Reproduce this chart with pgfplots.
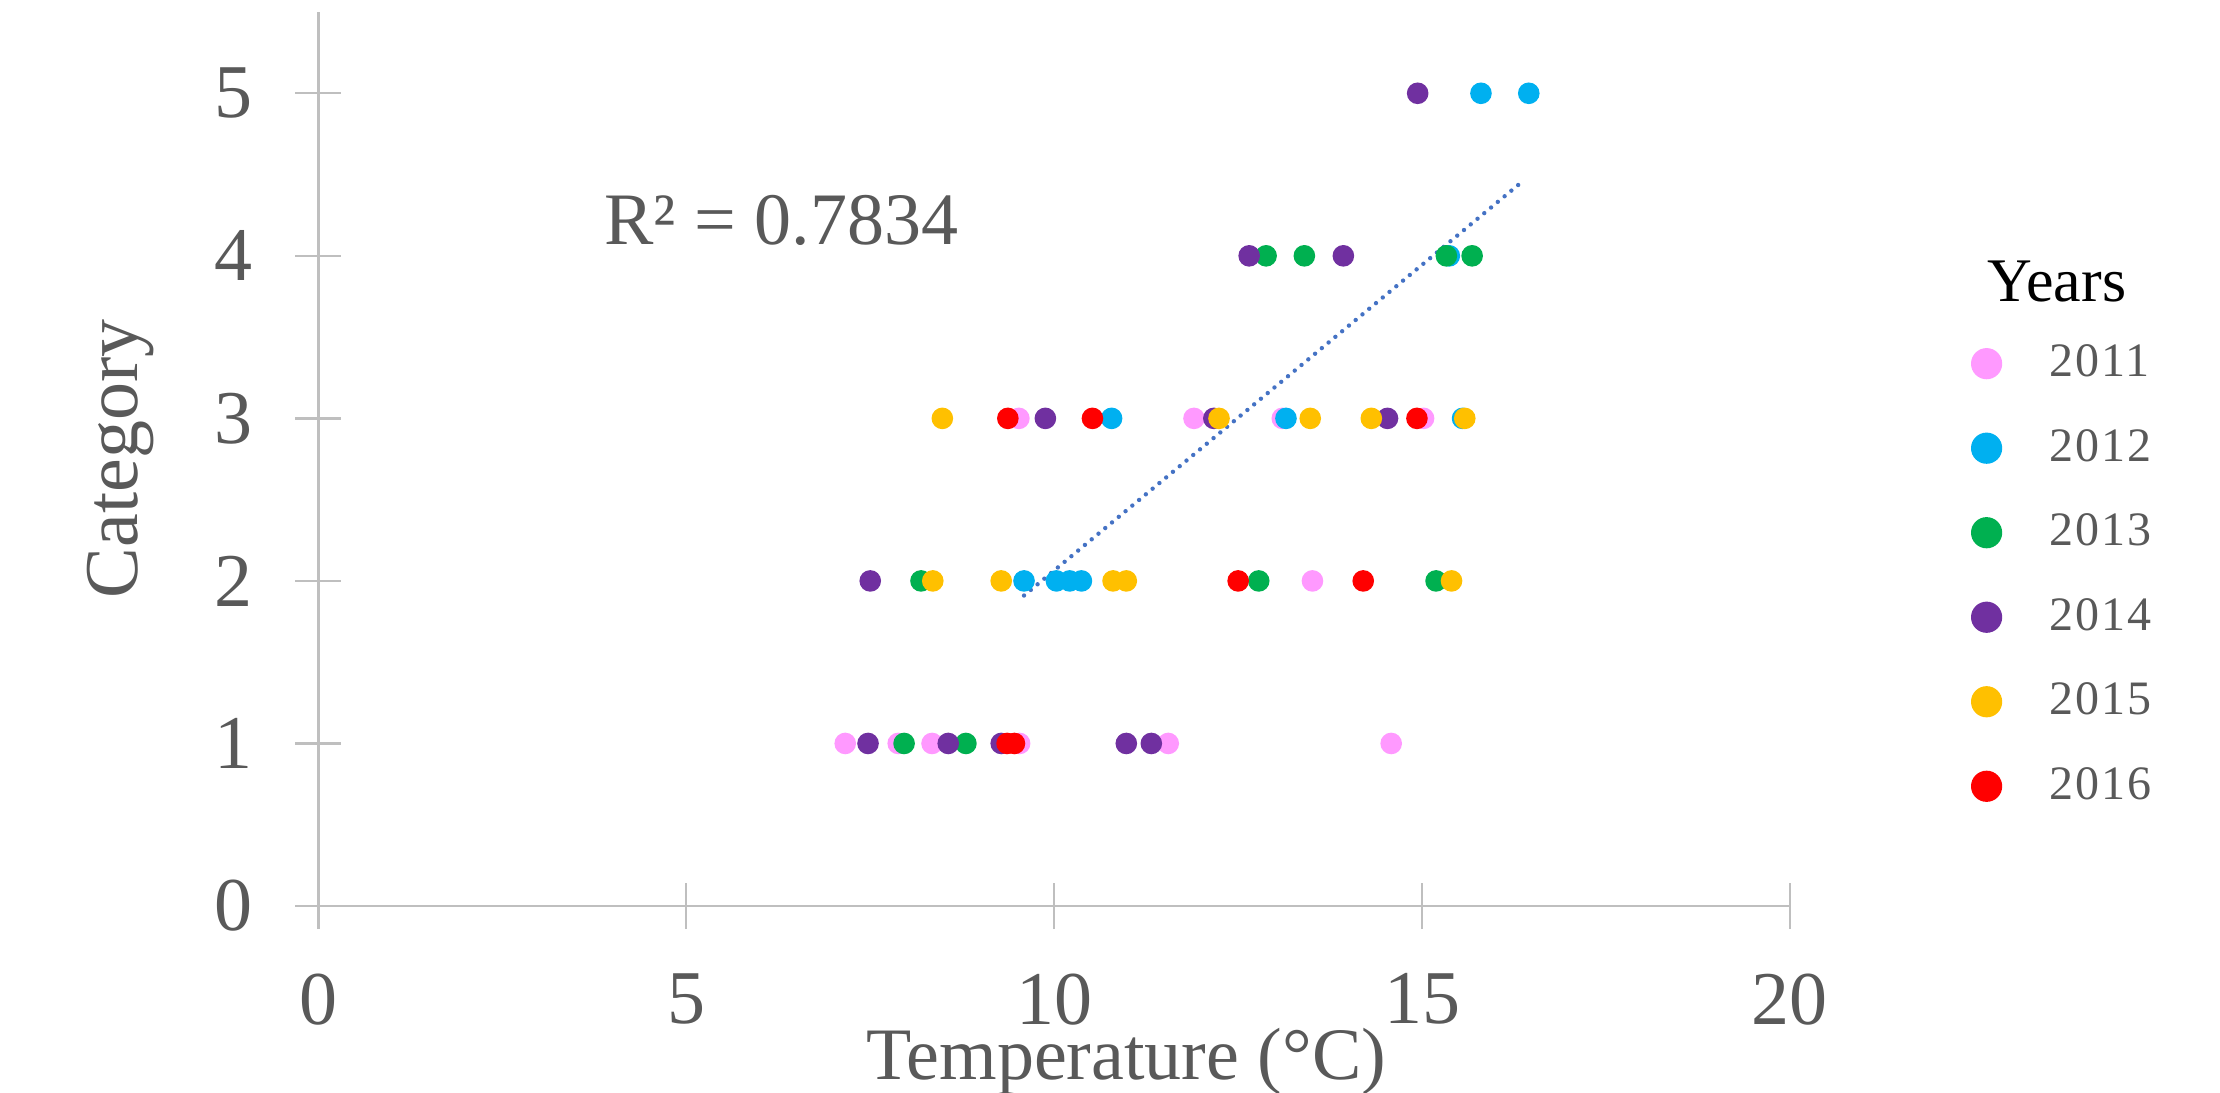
\documentclass[border=0pt]{standalone}
\usepackage{fontspec}
\setmainfont{Liberation Serif}
\usepackage{pgfplots}
\pgfplotsset{compat=1.18}

\definecolor{c2011}{HTML}{FF99FF}
\definecolor{c2012}{HTML}{00B0F0}
\definecolor{c2013}{HTML}{00B050}
\definecolor{c2014}{HTML}{7030A0}
\definecolor{c2015}{HTML}{FFC000}
\definecolor{c2016}{HTML}{FF0000}
\definecolor{txtgray}{HTML}{595959}
\definecolor{axgray}{HTML}{BFBFBF}
\definecolor{trend}{HTML}{4472C4}

\begin{document}
\begin{tikzpicture}
\begin{axis}[
    name=ax,
    scale only axis,
    width=367.9pt, height=223.5pt,
    xmin=0, xmax=20, ymin=0, ymax=5.5,
    xtick={0,5,10,15,20}, ytick={0,1,2,3,4,5},
    axis lines*=left,
    axis line style={axgray, line width=0.6pt},
    tick style={axgray, line width=0.6pt},
    tick align=center, major tick length=11.5pt,
    /pgf/number format/assume math mode=true,
    tick label style={font=\fontsize{19}{22}\selectfont, text=txtgray},
    yticklabel style={inner sep=0pt, anchor=east, xshift=-10.4pt},
    xticklabel style={inner sep=0pt, anchor=north, yshift=-11pt},
    xlabel={Temperature (°C)}, ylabel={Category},
    every axis x label/.style={at={(axis description cs:0.549,-0.1946)}, anchor=base,
        font=\fontsize{18.5}{22}\selectfont, text=txtgray},
    every axis y label/.style={at={(axis description cs:-0.1346,0.5)}, rotate=90, anchor=center,
        font=\fontsize{19}{22}\selectfont, text=txtgray},
    clip=false,
    legend style={draw=none, fill=none, inner sep=0pt, at={(axis description cs:1.1230,0.6377)}, anchor=north west,
        font=\fontsize{12}{14}\selectfont\addfontfeature{LetterSpace=4}, text=txtgray, row sep=7.65pt,
        /tikz/every odd column/.append style={column sep=10pt}},
    legend cell align=left,
    legend image post style={mark size=3.7pt},
]
\addplot[only marks, mark=*, mark size=2.5pt, color=c2011] coordinates {
(7.16,1)(7.88,1)(8.34,1)(9.53,1)(11.55,1)(14.58,1)(13.51,2)(9.52,3)(11.90,3)(13.10,3)(15.02,3)};
\addplot[only marks, mark=*, mark size=2.5pt, color=c2012] coordinates {
(9.59,2)(10.03,2)(10.21,2)(10.37,2)(10.78,3)(13.15,3)(15.55,3)(15.37,4)(15.80,5)(16.45,5)};
\addplot[only marks, mark=*, mark size=2.5pt, color=c2013] coordinates {
(7.96,1)(8.80,1)(8.19,2)(12.78,2)(15.19,2)(12.88,4)(13.40,4)(15.33,4)(15.68,4)};
\addplot[only marks, mark=*, mark size=2.5pt, color=c2014] coordinates {
(7.47,1)(8.56,1)(9.28,1)(10.98,1)(11.32,1)(7.50,2)(9.88,3)(12.17,3)(14.53,3)(12.65,4)(13.93,4)(14.94,5)};
\addplot[only marks, mark=*, mark size=2.5pt, color=c2015] coordinates {
(8.35,2)(9.28,2)(10.80,2)(10.98,2)(15.40,2)(8.48,3)(12.24,3)(13.48,3)(14.31,3)(15.58,3)};
\addplot[only marks, mark=*, mark size=2.5pt, color=c2016] coordinates {
(9.36,1)(9.46,1)(12.50,2)(14.20,2)(9.37,3)(10.52,3)(14.93,3)};
% linear trend line
\addplot[forget plot, trend, line width=1.1pt, line cap=round, dash pattern=on 0pt off 2.2pt] coordinates {
(9.59,1.91)(16.37,4.46)};
\legend{2011,2012,2013,2014,2015,2016}
\node[font=\fontsize{18.5}{22}\selectfont, text=txtgray] at (axis cs:6.29,4.22) {R² = 0.7834};
\node[anchor=base, font=\fontsize{15.5}{18}\selectfont] at (axis cs:23.63,3.72) {Years};
\end{axis}
\pgfresetboundingbox
\path (ax.south west) ++(-79.6pt,-46.75pt) rectangle ++(555pt,273.25pt);
\end{tikzpicture}
\end{document}
